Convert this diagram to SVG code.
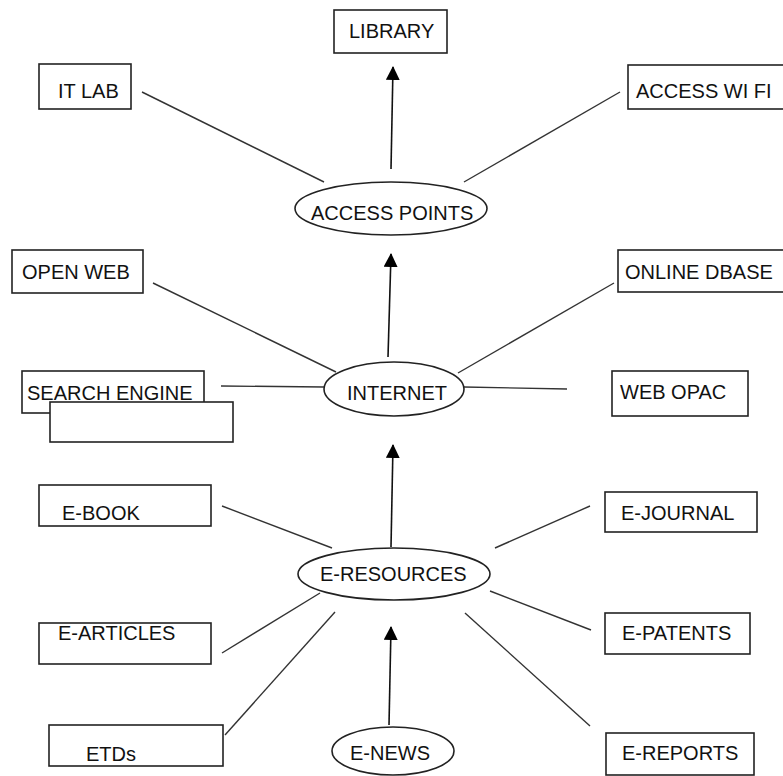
<svg xmlns="http://www.w3.org/2000/svg" width="783" height="776" viewBox="0 0 783 776">
<style>
.box{fill:#fff;stroke:#222;stroke-width:1.6}
.ell{fill:#fff;stroke:#222;stroke-width:1.6}
.t{font-family:"Liberation Sans",Arial,sans-serif;font-size:20px;fill:#111}
.ln{stroke:#333;stroke-width:1.4;fill:none}
.ar{stroke:#111;stroke-width:1.6;fill:none;marker-end:url(#ah)}
</style>
<defs>
<marker id="ah" markerUnits="userSpaceOnUse" markerWidth="14" markerHeight="14" refX="13" refY="7" orient="auto">
<path d="M0,0 L14,7 L0,14 z" fill="#000"/>
</marker>
</defs>
<rect width="783" height="776" fill="#fff"/>
<g id="connectors">
<line class="ln" x1="142" y1="92" x2="324" y2="182"/>
<line class="ln" x1="464" y1="182" x2="620" y2="92"/>
<line class="ln" x1="153" y1="283" x2="336" y2="372"/>
<line class="ln" x1="458" y1="373" x2="614" y2="283"/>
<line class="ln" x1="221" y1="386" x2="324" y2="387"/>
<line class="ln" x1="464" y1="387" x2="567" y2="389"/>
<line class="ln" x1="222" y1="506" x2="332" y2="548"/>
<line class="ln" x1="590" y1="506" x2="495" y2="548"/>
<line class="ln" x1="222" y1="653" x2="320" y2="593"/>
<line class="ln" x1="225" y1="735" x2="335" y2="612"/>
<line class="ln" x1="490" y1="591" x2="591" y2="630"/>
<line class="ln" x1="465" y1="613" x2="590" y2="726"/>
<line class="ar" x1="391" y1="169" x2="393" y2="67"/>
<line class="ar" x1="388" y1="357" x2="391" y2="254"/>
<line class="ar" x1="391" y1="547" x2="393" y2="445"/>
<line class="ar" x1="389" y1="725" x2="391" y2="627"/>
</g>
<g id="library"><rect class="box" x="334" y="10" width="113" height="43"/><text class="t" x="349" y="38">LIBRARY</text></g>
<g id="it-lab"><rect class="box" x="39" y="64" width="92" height="45"/><text class="t" x="58" y="98">IT LAB</text></g>
<g id="access-wifi"><rect class="box" x="628" y="65" width="180" height="44"/><text class="t" x="636" y="98">ACCESS WI FI</text></g>
<g id="access-points"><ellipse class="ell" cx="391" cy="208.5" rx="96" ry="26.5"/><text class="t" x="311" y="220">ACCESS POINTS</text></g>
<g id="open-web"><rect class="box" x="12" y="250" width="131" height="43"/><text class="t" x="22" y="279">OPEN WEB</text></g>
<g id="online-dbase"><rect class="box" x="618" y="250" width="180" height="42"/><text class="t" x="625" y="279">ONLINE DBASE</text></g>
<g id="search-engine"><rect class="box" x="22" y="371" width="182" height="42"/><text class="t" x="27" y="400">SEARCH ENGINE</text></g>
<g id="blank-box"><rect class="box" x="50" y="402" width="183" height="40"/></g>
<g id="internet"><ellipse class="ell" cx="394" cy="389" rx="70" ry="27"/><text class="t" x="347" y="400">INTERNET</text></g>
<g id="web-opac"><rect class="box" x="612" y="371" width="136" height="45"/><text class="t" x="620" y="399">WEB OPAC</text></g>
<g id="e-book"><rect class="box" x="39" y="485" width="172" height="41"/><text class="t" x="62" y="520">E-BOOK</text></g>
<g id="e-journal"><rect class="box" x="605" y="492" width="152" height="40"/><text class="t" x="621" y="520">E-JOURNAL</text></g>
<g id="e-resources"><ellipse class="ell" cx="394" cy="574" rx="96" ry="26"/><text class="t" x="320" y="581">E-RESOURCES</text></g>
<g id="e-articles"><rect class="box" x="39" y="623" width="172" height="41"/><text class="t" x="58" y="640">E-ARTICLES</text></g>
<g id="e-patents"><rect class="box" x="605" y="613" width="145" height="41"/><text class="t" x="622" y="640">E-PATENTS</text></g>
<g id="etds"><rect class="box" x="49" y="725" width="174" height="41"/><text class="t" x="86" y="761">ETDs</text></g>
<g id="e-news"><ellipse class="ell" cx="393" cy="751" rx="61" ry="24"/><text class="t" x="350" y="760">E-NEWS</text></g>
<g id="e-reports"><rect class="box" x="606" y="733" width="148" height="42"/><text class="t" x="622" y="760">E-REPORTS</text></g>
</svg>
